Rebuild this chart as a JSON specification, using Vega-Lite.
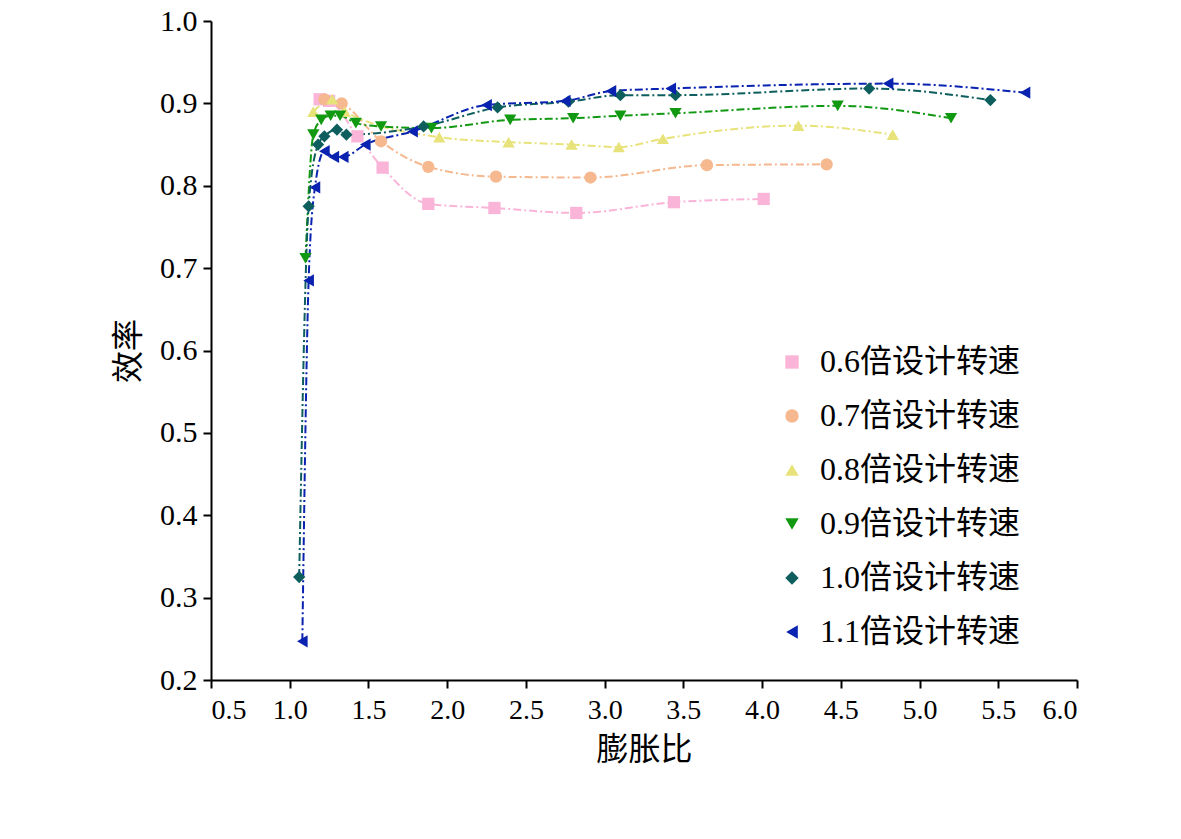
{
  "$schema": "https://vega.github.io/schema/vega-lite/v6.json",
  "width": 866,
  "height": 659,
  "padding": {"left": 112, "top": 6, "right": 10, "bottom": 5},
  "config": {"view": {"stroke": null}, "font": "Liberation Serif"},
  "data": {"values": [
    {"s":"0.6倍设计转速","x":1.19,"y":0.905},{"s":"0.6倍设计转速","x":1.25,"y":0.903},{"s":"0.6倍设计转速","x":1.43,"y":0.86},{"s":"0.6倍设计转速","x":1.59,"y":0.822},{"s":"0.6倍设计转速","x":1.88,"y":0.778},{"s":"0.6倍设计转速","x":2.30,"y":0.773},{"s":"0.6倍设计转速","x":2.82,"y":0.767},{"s":"0.6倍设计转速","x":3.44,"y":0.780},{"s":"0.6倍设计转速","x":4.01,"y":0.784},
    {"s":"0.7倍设计转速","x":1.22,"y":0.905},{"s":"0.7倍设计转速","x":1.33,"y":0.900},{"s":"0.7倍设计转速","x":1.58,"y":0.854},{"s":"0.7倍设计转速","x":1.88,"y":0.823},{"s":"0.7倍设计转速","x":2.31,"y":0.811},{"s":"0.7倍设计转速","x":2.91,"y":0.810},{"s":"0.7倍设计转速","x":3.65,"y":0.825},{"s":"0.7倍设计转速","x":4.41,"y":0.826},
    {"s":"0.8倍设计转速","x":1.15,"y":0.89},{"s":"0.8倍设计转速","x":1.27,"y":0.905},{"s":"0.8倍设计转速","x":1.35,"y":0.89},{"s":"0.8倍设计转速","x":1.95,"y":0.859},{"s":"0.8倍设计转速","x":2.39,"y":0.853},{"s":"0.8倍设计转速","x":2.79,"y":0.850},{"s":"0.8倍设计转速","x":3.09,"y":0.847},{"s":"0.8倍设计转速","x":3.37,"y":0.857},{"s":"0.8倍设计转速","x":4.23,"y":0.873},{"s":"0.8倍设计转速","x":4.83,"y":0.862},
    {"s":"0.9倍设计转速","x":1.10,"y":0.712},{"s":"0.9倍设计转速","x":1.15,"y":0.862},{"s":"0.9倍设计转速","x":1.20,"y":0.88},{"s":"0.9倍设计转速","x":1.26,"y":0.885},{"s":"0.9倍设计转速","x":1.32,"y":0.885},{"s":"0.9倍设计转速","x":1.42,"y":0.876},{"s":"0.9倍设计转速","x":1.58,"y":0.872},{"s":"0.9倍设计转速","x":1.90,"y":0.870},{"s":"0.9倍设计转速","x":2.40,"y":0.880},{"s":"0.9倍设计转速","x":2.80,"y":0.882},{"s":"0.9倍设计转速","x":3.10,"y":0.885},{"s":"0.9倍设计转速","x":3.45,"y":0.888},{"s":"0.9倍设计转速","x":4.48,"y":0.897},{"s":"0.9倍设计转速","x":5.20,"y":0.882},
    {"s":"1.0倍设计转速","x":1.06,"y":0.325},{"s":"1.0倍设计转速","x":1.12,"y":0.775},{"s":"1.0倍设计转速","x":1.18,"y":0.85},{"s":"1.0倍设计转速","x":1.22,"y":0.86},{"s":"1.0倍设计转速","x":1.30,"y":0.868},{"s":"1.0倍设计转速","x":1.36,"y":0.862},{"s":"1.0倍设计转速","x":1.85,"y":0.872},{"s":"1.0倍设计转速","x":2.32,"y":0.895},{"s":"1.0倍设计转速","x":2.77,"y":0.902},{"s":"1.0倍设计转速","x":3.10,"y":0.910},{"s":"1.0倍设计转速","x":3.45,"y":0.910},{"s":"1.0倍设计转速","x":4.68,"y":0.918},{"s":"1.0倍设计转速","x":5.45,"y":0.904},
    {"s":"1.1倍设计转速","x":1.08,"y":0.247},{"s":"1.1倍设计转速","x":1.12,"y":0.685},{"s":"1.1倍设计转速","x":1.16,"y":0.798},{"s":"1.1倍设计转速","x":1.22,"y":0.842},{"s":"1.1倍设计转速","x":1.28,"y":0.835},{"s":"1.1倍设计转速","x":1.34,"y":0.835},{"s":"1.1倍设计转速","x":1.48,"y":0.850},{"s":"1.1倍设计转速","x":1.78,"y":0.866},{"s":"1.1倍设计转速","x":2.25,"y":0.898},{"s":"1.1倍设计转速","x":2.75,"y":0.903},{"s":"1.1倍设计转速","x":3.04,"y":0.915},{"s":"1.1倍设计转速","x":3.42,"y":0.918},{"s":"1.1倍设计转速","x":4.80,"y":0.924},{"s":"1.1倍设计转速","x":5.67,"y":0.913}
  ]},
  "encoding": {
    "x": {"field": "x", "type": "quantitative", "title": "膨胀比",
      "scale": {"domain": [0.5, 6.0], "nice": false, "zero": false},
      "axis": {"values": [0.5,1,1.5,2,2.5,3,3.5,4,4.5,5,5.5,6], "format": ".1f", "grid": false, "domainColor": "black", "tickColor": "black", "labelFontSize": 28, "labelColor": "black", "titleFontSize": 32, "titleFont": "Noto Sans CJK SC", "titleFontWeight": "normal", "titleColor": "black", "tickSize": 8, "domainWidth": 2, "tickWidth": 2, "labelPadding": 8, "labelOverlap": false, "titlePadding": 10}},
    "y": {"field": "y", "type": "quantitative", "title": "效率",
      "scale": {"domain": [0.2, 1.0], "nice": false, "zero": false},
      "axis": {"values": [0.2,0.3,0.4,0.5,0.6,0.7,0.8,0.9,1.0], "format": ".1f", "grid": false, "domainColor": "black", "tickColor": "black", "labelFontSize": 30, "labelColor": "black", "titleFontSize": 32, "titleFont": "Noto Sans CJK SC", "titleFontWeight": "normal", "titleColor": "black", "tickSize": 8, "domainWidth": 2, "tickWidth": 2, "labelPadding": 6, "titlePadding": 14}}
  },
  "layer": [
    {"mark": {"type": "line", "interpolate": "monotone", "strokeWidth": 2, "strokeDash": [8, 3, 2, 3]},
     "encoding": {"order": {"field": "x"},
       "stroke": {"field": "s", "type": "nominal", "legend": null,
         "scale": {"range": ["#f9b4d8", "#f5b88f", "#e8e27a", "#119911", "#0e5e5e", "#0a22b0"]}}}},
    {"mark": {"type": "point", "filled": true, "opacity": 1, "size": 150, "strokeWidth": 0},
     "encoding": {
       "fill": {"field": "s", "type": "nominal", "title": null,
         "scale": {"range": ["#f9b4d8", "#f5b88f", "#e8e27a", "#119911", "#0e5e5e", "#0a22b0"]},
         "legend": {"orient": "none", "legendX": 565, "legendY": 325, "labelFontSize": 32, "labelLimit": 0, "labelColor": "black", "labelFont": "Liberation Serif, Noto Sans CJK SC", "symbolSize": 180, "rowPadding": 22, "labelOffset": 12}},
       "shape": {"field": "s", "type": "nominal", "title": null,
         "scale": {"range": ["square", "circle", "triangle-up", "triangle-down", "diamond", "triangle-left"]},
         "legend": {"orient": "none", "legendX": 565, "legendY": 325, "labelFontSize": 32, "labelLimit": 0, "labelColor": "black", "labelFont": "Liberation Serif, Noto Sans CJK SC", "symbolSize": 180, "rowPadding": 22, "labelOffset": 12}}}}
  ]
}
